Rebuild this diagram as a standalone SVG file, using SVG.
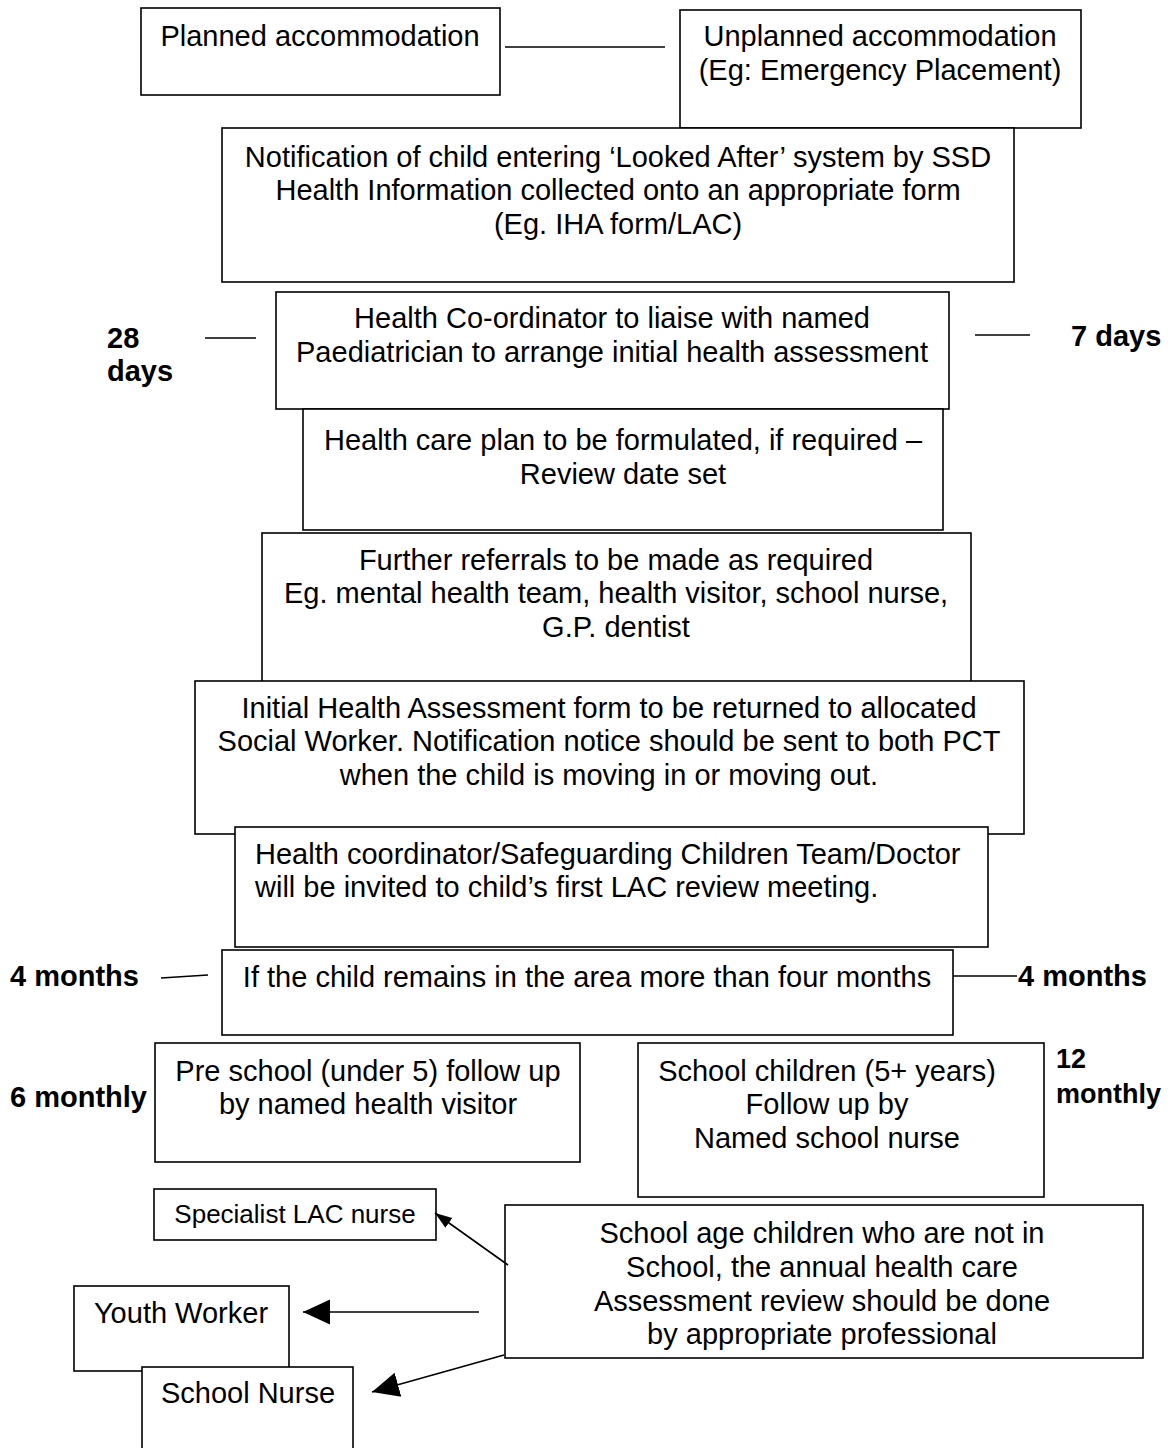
<svg xmlns="http://www.w3.org/2000/svg" width="1174" height="1448" viewBox="0 0 1174 1448">
<style>
rect{fill:#fff;stroke:#000;stroke-width:1.6}
text{font-family:"Liberation Sans",Arial,sans-serif;font-size:29px;fill:#000}
.c{text-anchor:middle}
.b{font-weight:bold}
.s{font-size:26px}
.r{font-size:27px}
.ln{stroke:#000;stroke-width:1.6;fill:none}
</style>
<defs>
<marker id="big" viewBox="0 0 10 10" refX="10" refY="5" markerWidth="27" markerHeight="27" markerUnits="userSpaceOnUse" orient="auto"><path d="M0,0.4 L10,5 L0,9.6 Z" fill="#000"/></marker>
<marker id="sm" viewBox="0 0 10 10" refX="10" refY="5" markerWidth="17" markerHeight="17" markerUnits="userSpaceOnUse" orient="auto"><path d="M0,1.5 L10,5 L0,8.5 Z" fill="#000"/></marker>
</defs>
<g id="n1"><rect x="141" y="8" width="359" height="87"/><text class="c" x="320" y="46">Planned accommodation</text></g>
<g id="n2"><rect x="680" y="10" width="401" height="118"/><text class="c" x="880" y="46">Unplanned accommodation</text><text class="c" x="880" y="80">(Eg: Emergency Placement)</text></g>
<g id="n3"><rect x="222" y="128" width="792" height="154"/><text class="c" x="618" y="167">Notification of child entering ‘Looked After’ system by SSD</text><text class="c" x="618" y="200">Health Information collected onto an appropriate form</text><text class="c" x="618" y="234">(Eg. IHA form/LAC)</text></g>
<g id="n4"><rect x="276" y="292" width="673" height="117"/><text class="c" x="612" y="328">Health Co-ordinator to liaise with named</text><text class="c" x="612" y="362">Paediatrician to arrange initial health assessment</text></g>
<g id="n5"><rect x="303" y="409" width="640" height="121"/><text class="c" x="623" y="450">Health care plan to be formulated, if required –</text><text class="c" x="623" y="484">Review date set</text></g>
<g id="n6"><rect x="262" y="533" width="709" height="153"/><text class="c" x="616" y="570">Further referrals to be made as required</text><text class="c" x="616" y="603">Eg. mental health team, health visitor, school nurse,</text><text class="c" x="616" y="637">G.P. dentist</text></g>
<g id="n7"><rect x="195" y="681" width="829" height="153"/><text class="c" x="609" y="718">Initial Health Assessment form to be returned to allocated</text><text class="c" x="609" y="751">Social Worker. Notification notice should be sent to both PCT</text><text class="c" x="609" y="785">when the child is moving in or moving out.</text></g>
<g id="n8"><rect x="235" y="827" width="753" height="120"/><text x="255" y="864">Health coordinator/Safeguarding Children Team/Doctor</text><text x="255" y="897">will be invited to child’s first LAC review meeting.</text></g>
<g id="n9"><rect x="222" y="950" width="731" height="85"/><text class="c" x="587" y="987">If the child remains in the area more than four months</text></g>
<g id="n10"><rect x="155" y="1043" width="425" height="119"/><text class="c" x="368" y="1081">Pre school (under 5) follow up</text><text class="c" x="368" y="1114">by named health visitor</text></g>
<g id="n11"><rect x="638" y="1043" width="406" height="154"/><text class="c" x="827" y="1081">School children (5+ years)</text><text class="c" x="827" y="1114">Follow up by</text><text class="c" x="827" y="1148">Named school nurse</text></g>
<g id="n12"><rect x="154" y="1189" width="282" height="51"/><text class="c s" x="295" y="1223">Specialist LAC nurse</text></g>
<g id="n13"><rect x="505" y="1205" width="638" height="153"/><text class="c" x="822" y="1243">School age children who are not in</text><text class="c" x="822" y="1277">School, the annual health care</text><text class="c" x="822" y="1311">Assessment review should be done</text><text class="c" x="822" y="1344">by appropriate professional</text></g>
<g id="n14"><rect x="74" y="1286" width="215" height="85"/><text class="c" x="181" y="1323">Youth Worker</text></g>
<g id="n15"><rect x="142" y="1367" width="211" height="90"/><text class="c" x="248" y="1403">School Nurse</text></g>
<g id="labels">
<text class="b" x="107" y="348">28</text><text class="b" x="107" y="381">days</text>
<text class="b" x="1071" y="346">7 days</text>
<text class="b" x="10" y="986">4 months</text>
<text class="b" x="1018" y="986">4 months</text>
<text class="b" x="10" y="1107">6 monthly</text>
<text class="b r" x="1056" y="1068">12</text><text class="b r" x="1056" y="1103">monthly</text>
</g>
<g id="connectors">
<line class="ln" x1="505" y1="47" x2="665" y2="47"/>
<line class="ln" x1="205" y1="338" x2="256" y2="338"/>
<line class="ln" x1="975" y1="335" x2="1030" y2="335"/>
<line class="ln" x1="161" y1="978" x2="208" y2="975"/>
<line class="ln" x1="953" y1="976" x2="1017" y2="976"/>
<line class="ln" x1="508" y1="1265" x2="435" y2="1213" marker-end="url(#sm)"/>
<line class="ln" x1="479" y1="1312" x2="303" y2="1312" marker-end="url(#big)"/>
<line class="ln" x1="504" y1="1355" x2="372" y2="1392" marker-end="url(#big)"/>
</g>
</svg>
